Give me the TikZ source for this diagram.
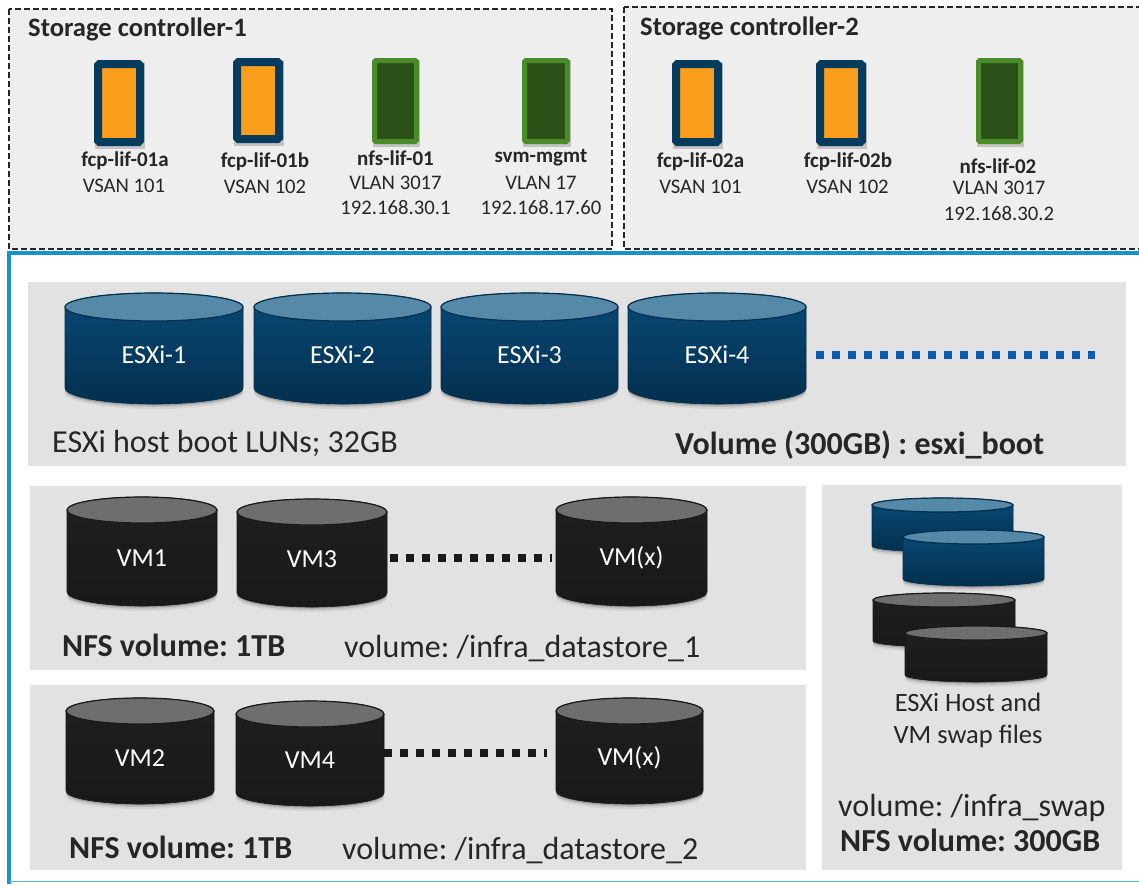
\documentclass[tikz,border=0pt]{standalone}
\usepackage{fontspec}
\usetikzlibrary{calc}
\setmainfont{Carlito}
\frenchspacing
\definecolor{ink}{HTML}{262626}
\definecolor{panelA}{HTML}{EEEEEE}
\definecolor{panelB}{HTML}{E2E2E2}
\definecolor{frameblue}{HTML}{1A8FD1}
\definecolor{navy}{HTML}{053C5E}
\definecolor{orangefill}{HTML}{F99D1C}
\definecolor{greenedge}{HTML}{4A8C2A}
\definecolor{greenfill}{HTML}{2B5018}
\definecolor{blueTop}{HTML}{084A76}
\definecolor{blueBot}{HTML}{032F4E}
\definecolor{blueLid}{HTML}{5688A8}
\definecolor{blackTop}{HTML}{1F1F1F}
\definecolor{blackBot}{HTML}{191919}
\definecolor{blackLid}{HTML}{6E6E6E}
\definecolor{dotblue}{HTML}{0B5CB0}
\definecolor{dotblack}{HTML}{1A1A1A}
\tikzset{
  x=1pt,y=-1pt,
  ctrlbox/.style={draw=black!85,fill=panelA,line width=2pt,dash pattern=on 6pt off 3pt},
  graypanel/.style={fill=panelB,draw=none},
  titletext/.style={font=\fontsize{26.6}{30}\selectfont\bfseries,text=ink,inner sep=0pt,anchor=base west},
  lifname/.style={font=\fontsize{21}{24}\selectfont\bfseries,text=ink,inner sep=0pt,align=center},
  lifinfo/.style={font=\fontsize{20.7}{25.5}\selectfont,text=ink,inner sep=0pt,align=center},
  captext/.style={font=\fontsize{32}{36}\selectfont,text=ink,inner sep=0pt,anchor=base west},
  capbold/.style={font=\fontsize{32}{36}\selectfont\bfseries,text=ink,inner sep=0pt,anchor=base west},
  disklabel/.style={font=\fontsize{26}{30}\selectfont,text=white,inner sep=0pt},
  dotline/.style={line width=8pt,dash pattern=on 8pt off 8pt},
}
% name, left, right, top-ellipse centre y, bottom-ellipse centre y, ry top, ry bottom, palette, label
\newcommand{\cylinder}[9]{%
  \foreach \o/\a in {5/0.06,3/0.10,1.5/0.16}{
    \fill[black,opacity=\a] (#2,#4) -- (#2,#5+\o) arc[start angle=180,end angle=0,x radius={(#3-#2)/2},y radius=#7] -- (#3,#4) -- cycle;}
  \shade[top color=#8Top,bottom color=#8Bot,draw=#8Bot,line width=0.6pt]
    (#2,#4) -- (#2,#5) arc[start angle=180,end angle=0,x radius={(#3-#2)/2},y radius=#7] -- (#3,#4)
    arc[start angle=0,end angle=-180,x radius={(#3-#2)/2},y radius=#6] -- cycle;
  \draw[fill=#8Lid,draw=#8Bot,line width=1.2pt] ({(#2+#3)/2},#4) ellipse[x radius={(#3-#2)/2},y radius=#6];
  \node[disklabel] (#1) at ({(#2+#3)/2},{(#4+#5)/2+7}) {#9};
  \coordinate (#1-l) at (#2,{(#4+#5)/2+7});
  \coordinate (#1-r) at (#3,{(#4+#5)/2+7});
}
% name, left, right, top, bottom, edge, fill, edge width
\newcommand{\lificon}[8]{%
  \fill[black,opacity=0.18] (#2+1,#4+2) rectangle (#3+1,#5+3);
  \node[draw=#6,fill=#7,line width=#8pt,rounded corners=1.5pt,inner sep=0pt,
        minimum width=#3-#2-#8,minimum height=#5-#4-#8] (#1) at ({(#2+#3)/2},{(#4+#5)/2}) {};
}
\begin{document}
\begin{tikzpicture}
\useasboundingbox (0,0) rectangle (1139,884);
\fill[white] (0,0) rectangle (1139,884);
\begin{scope}
\clip (0,0) rectangle (1139,884);
% controllers
\draw[ctrlbox] (9,9) rectangle (612,249);
\draw[ctrlbox] (624,7) rectangle (1145,249);
% main frame
\draw[frameblue,line width=4.5pt] (1145,253) -- (9,253) -- (9,884);
\draw[frameblue!70,line width=1.2pt] (9,881.5) -- (1145,881.5);
\end{scope}
\node[titletext] (sc1) at (28,36) {Storage controller-1};
\node[titletext] (sc2) at (640,35) {Storage controller-2};
% LIFs
\lificon{i1}{94}{144}{60}{146}{navy}{orangefill}{8}
\lificon{i2}{233}{283}{58}{143}{navy}{orangefill}{8}
\lificon{i3}{372}{419}{58}{144}{greenedge}{greenfill}{5}
\lificon{i4}{522}{570}{58}{144}{greenedge}{greenfill}{5}
\lificon{i5}{672}{722}{60}{146}{navy}{orangefill}{8}
\lificon{i6}{816}{866}{60}{146}{navy}{orangefill}{8}
\lificon{i7}{976}{1023}{58}{144}{greenedge}{greenfill}{5}
\node[lifname] (n1) at (125,161) {fcp-lif-01a};
\node[lifinfo] (t1) at (124,186) {VSAN 101};
\node[lifname] (n2) at (265,162) {fcp-lif-01b};
\node[lifinfo] (t2) at (265,187) {VSAN 102};
\node[lifname] (n3) at (395.5,158) {nfs-lif-01};
\node[lifinfo] (t3) at (395.5,195.5) {VLAN 3017\\192.168.30.1};
\node[lifname] (n4) at (541,158) {svm-mgmt};
\node[lifinfo] (t4) at (541,195.5) {VLAN 17\\192.168.17.60};
\node[lifname] (n5) at (700.5,162) {fcp-lif-02a};
\node[lifinfo] (t5) at (700.5,187) {VSAN 101};
\node[lifname] (n6) at (848,162) {fcp-lif-02b};
\node[lifinfo] (t6) at (847.5,187) {VSAN 102};
\node[lifname] (n7) at (998,166) {nfs-lif-02};
\node[lifinfo] (t7) at (999,201) {VLAN 3017\\192.168.30.2};
% panels
\fill[graypanel] (28,282) rectangle (1126,466);
\fill[graypanel] (30,486) rectangle (806,670);
\fill[graypanel] (30,685) rectangle (806,870);
\fill[graypanel] (822,485) rectangle (1122,870);
% boot LUNs
\cylinder{e1}{65}{243}{307}{388}{14}{16}{blue}{ESXi-1}
\cylinder{e2}{254}{431}{307}{388}{14}{16}{blue}{ESXi-2}
\cylinder{e3}{441}{618}{307}{388}{14}{16}{blue}{ESXi-3}
\cylinder{e4}{628}{806}{307}{388}{14}{16}{blue}{ESXi-4}
\coordinate (bootend) at (1095,354.5);
\draw[dotblue,dotline,shorten <=10pt] (e4-r) -- (bootend);
\node[captext] (c1) at (52,452) {ESXi host boot LUNs; 32GB};
\node[capbold] (c2) at (675,454) {Volume (300GB) : esxi\_boot};
% datastore 1
\cylinder{v1}{67}{217}{510}{592}{13}{14}{black}{VM1}
\cylinder{v3}{237}{387}{512}{593}{13}{14}{black}{VM3}
\cylinder{vx1}{556}{707}{510}{592}{13}{14}{black}{VM(x)}
\draw[dotblack,dotline,shorten <=3pt,shorten >=4pt] ([yshift=1.5pt]v3-r) -- ([yshift=1.5pt]v3-r -| vx1-l);
\node[capbold] (c3) at (62,656) {NFS volume: 1TB};
\node[captext] (c4) at (344,657) {volume: /infra\_datastore\_1};
% datastore 2
\cylinder{v2}{66}{214}{711}{791}{13}{13}{black}{VM2}
\cylinder{v4}{236}{384}{714}{793}{13}{13}{black}{VM4}
\cylinder{vx2}{556}{703}{711}{791}{13}{13}{black}{VM(x)}
\draw[dotblack,dotline,shorten >=9pt] ([yshift=7.5pt]v4-r) -- ([yshift=7.5pt]v4-r -| vx2-l);
\node[capbold] (c5) at (69,858) {NFS volume: 1TB};
\node[captext] (c6) at (342,859) {volume: /infra\_datastore\_2};
% swap
\cylinder{s1}{872}{1013}{505}{546}{7}{6}{blue}{}
\cylinder{s2}{903}{1044}{537}{579}{7}{7}{blue}{}
\cylinder{s3}{873}{1015}{600}{641}{7}{6}{black}{}
\cylinder{s4}{905}{1047}{633}{675}{7}{7}{black}{}
\node[font=\fontsize{26.5}{32}\selectfont,text=ink,inner sep=0pt,align=center] (c7) at (968,720.5) {ESXi Host and\\VM swap files};
\node[captext] (c8) at (838,816) {volume: /infra\_swap};
\node[capbold] (c9) at (840,851) {NFS volume: 300GB};
\end{tikzpicture}
\end{document}
